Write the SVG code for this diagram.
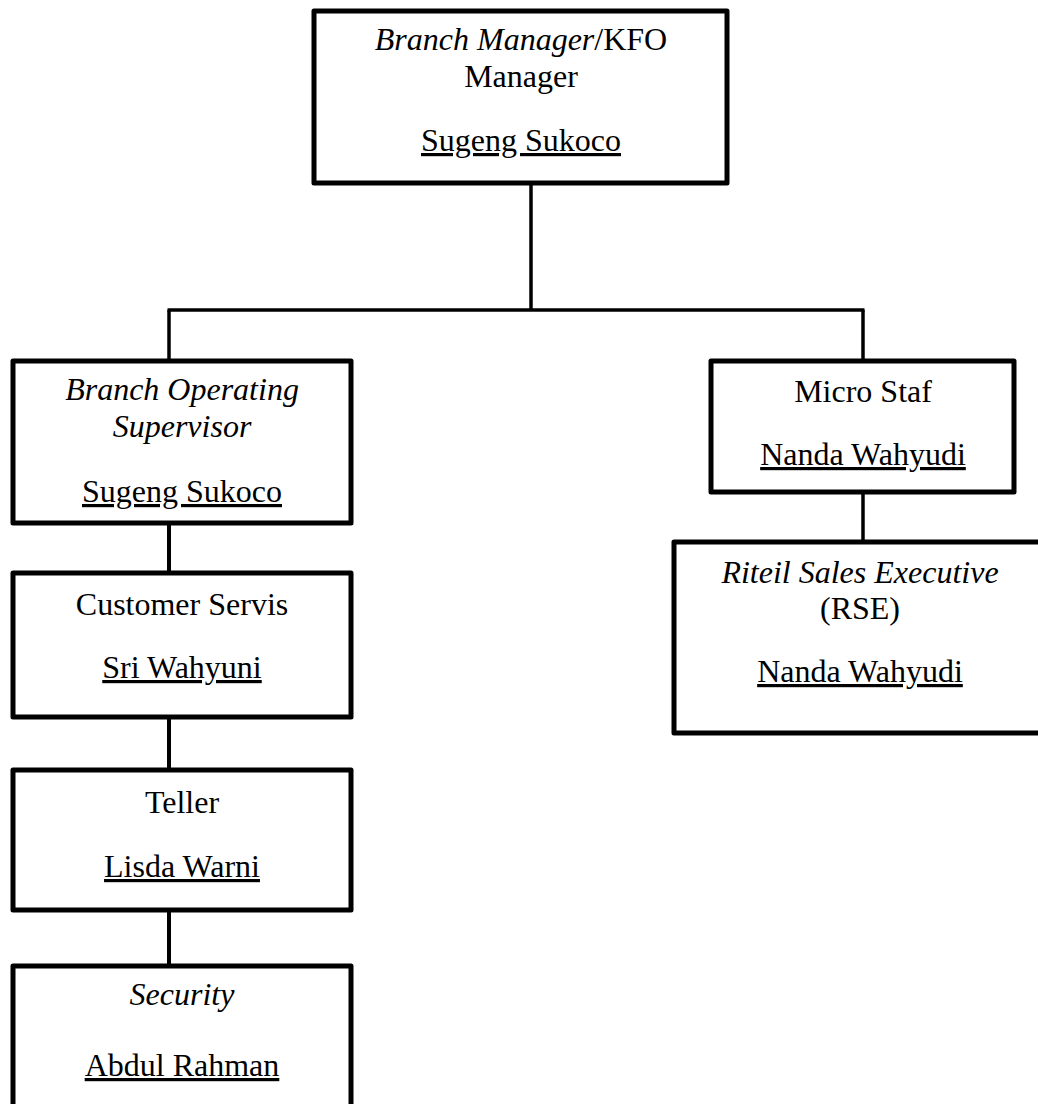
<svg xmlns="http://www.w3.org/2000/svg" width="1038" height="1104" viewBox="0 0 1038 1104">
<style>
.box{fill:#fff;stroke:#000;stroke-width:5;stroke-linejoin:round}
.conn{stroke:#000;stroke-width:3.5;fill:none}
text{font-family:"Liberation Serif","Times New Roman",serif;font-size:32px;fill:#000;text-anchor:middle}
.i{font-style:italic}
.u{text-decoration:underline}
</style>
<rect width="1038" height="1104" fill="#fff"/>
<g id="connectors">
<line class="conn" x1="531" y1="183" x2="531" y2="310"/>
<line class="conn" x1="167.5" y1="310" x2="864.5" y2="310"/>
<line class="conn" x1="169" y1="310" x2="169" y2="361"/>
<line class="conn" x1="863" y1="310" x2="863" y2="361"/>
<line class="conn" x1="863" y1="492" x2="863" y2="542"/>
<line class="conn" x1="169" y1="523" x2="169" y2="573" style="stroke-width:4"/>
<line class="conn" x1="169" y1="717" x2="169" y2="770" style="stroke-width:4"/>
<line class="conn" x1="169" y1="910" x2="169" y2="966" style="stroke-width:4"/>
</g>
<g id="branch-manager">
<rect class="box" x="314" y="11" width="413" height="172"/>
<text x="521" y="50"><tspan class="i">Branch Manager</tspan>/KFO</text>
<text x="521" y="87">Manager</text>
<text x="521" y="151" class="u">Sugeng Sukoco</text>
</g>
<g id="bos">
<rect class="box" x="13" y="361" width="338" height="162"/>
<text x="182" y="400" class="i">Branch Operating</text>
<text x="182" y="437" class="i">Supervisor</text>
<text x="182" y="502" class="u">Sugeng Sukoco</text>
</g>
<g id="micro-staf">
<rect class="box" x="711" y="361" width="303" height="131"/>
<text x="863" y="402">Micro Staf</text>
<text x="863" y="465" class="u">Nanda Wahyudi</text>
</g>
<g id="rse">
<rect class="box" x="674" y="542" width="372" height="191"/>
<text x="860" y="583" class="i">Riteil Sales Executive</text>
<text x="860" y="619">(RSE)</text>
<text x="860" y="682" class="u">Nanda Wahyudi</text>
</g>
<g id="customer-servis">
<rect class="box" x="13" y="573" width="338" height="144"/>
<text x="182" y="615">Customer Servis</text>
<text x="182" y="678" class="u">Sri Wahyuni</text>
</g>
<g id="teller">
<rect class="box" x="13" y="770" width="338" height="140"/>
<text x="182" y="813">Teller</text>
<text x="182" y="877" class="u">Lisda Warni</text>
</g>
<g id="security">
<rect class="box" x="13" y="966" width="338" height="150"/>
<text x="182" y="1005" class="i">Security</text>
<text x="182" y="1076" class="u">Abdul Rahman</text>
</g>
</svg>
